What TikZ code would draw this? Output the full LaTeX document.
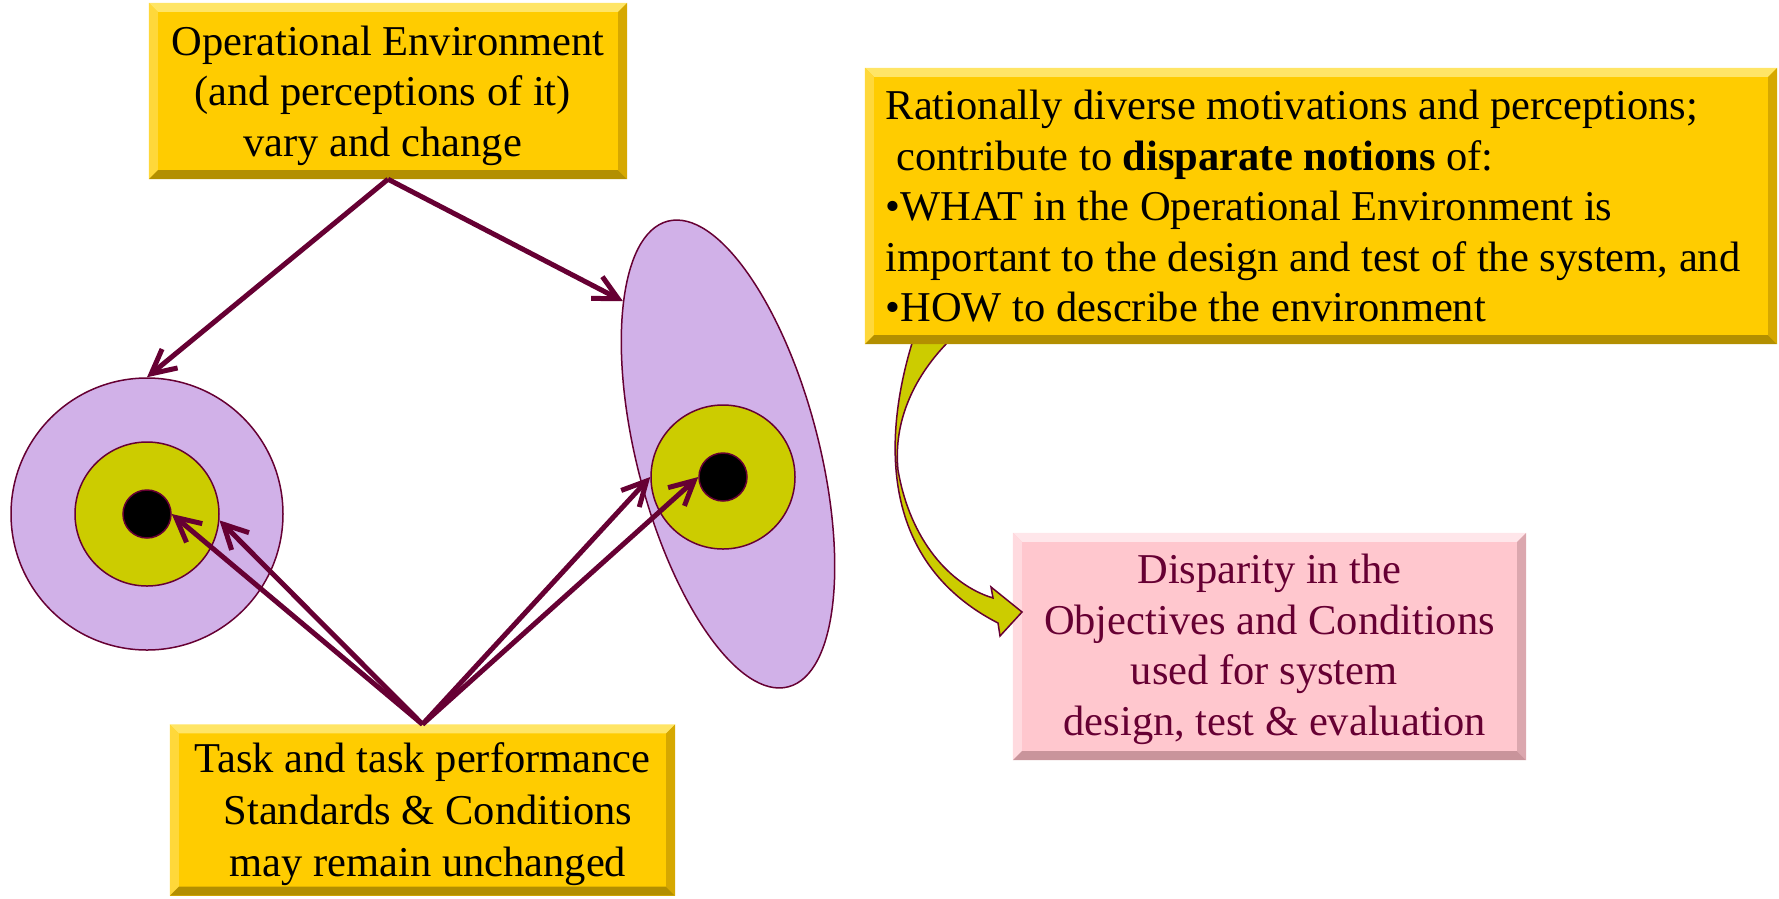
\documentclass[tikz,border=0pt]{standalone}
\usepackage{fontspec}
\setmainfont{Liberation Serif}
\usetikzlibrary{arrows.meta,calc,shapes.geometric}

\definecolor{maroon}{HTML}{660033}
\definecolor{gold}{HTML}{FFCC00}
\definecolor{goldtop}{HTML}{FFE566}
\definecolor{goldleft}{HTML}{FFD83A}
\definecolor{goldbottom}{HTML}{B38F00}
\definecolor{goldright}{HTML}{D6A800}
\definecolor{rose}{HTML}{FFC7CE}
\definecolor{rosetop}{HTML}{FFE6EA}
\definecolor{roseleft}{HTML}{FFDADF}
\definecolor{rosebottom}{HTML}{C9949B}
\definecolor{roseright}{HTML}{DBA7AE}
\definecolor{lilac}{HTML}{D1B1E8}
\definecolor{olive}{HTML}{CCCC00}

% bevelled edges of a box node: node, top, left, bottom, right
\newcommand{\boxbevel}[5]{%
  \fill[#2] (#1.north west) -- (#1.north east) -- ($(#1.north east)+(-9,9)$) -- ($(#1.north west)+(9,9)$) -- cycle;
  \fill[#3] (#1.north west) -- ($(#1.north west)+(9,9)$) -- ($(#1.south west)+(9,-9)$) -- (#1.south west) -- cycle;
  \fill[#4] (#1.south west) -- ($(#1.south west)+(9,-9)$) -- ($(#1.south east)+(-9,-9)$) -- (#1.south east) -- cycle;
  \fill[#5] (#1.north east) -- ($(#1.north east)+(-9,9)$) -- ($(#1.south east)+(-9,-9)$) -- (#1.south east) -- cycle;
}

\begin{document}
\begin{tikzpicture}[
		x=1pt, y=-1pt,
		every node/.style={font=\fontsize{42.5}{50.5}\selectfont},
		goldbox/.style={rectangle, fill=gold, inner sep=0pt, align=center},
		rosebox/.style={rectangle, fill=rose, text=maroon, inner sep=0pt, align=center},
		ring/.style={circle, draw=maroon, line width=1.5pt, inner sep=0pt},
		link/.style={draw=maroon, line width=5pt, -{Straight Barb[angle=54:27pt]}}
	]
  \useasboundingbox (0,0) rectangle (1779,898);
  % targets
  \node (lout) [ring, fill=lilac, minimum size=272pt] at (147,514) {};
  \node (lmid) [ring, fill=olive, minimum size=144pt] at (147,514) {};
  \node (lcore) [ring, fill=black, minimum size=48pt] at (147,514) {};
  \node (rout) [ellipse, draw=maroon, line width=1.5pt, fill=lilac, inner sep=0pt,
    minimum width=182pt, minimum height=481pt, rotate=14.5] at (728,454) {};
  \node (rmid) [ring, fill=olive, minimum size=144pt] at (723,477) {};
  \node (rcore) [ring, fill=black, minimum size=48pt] at (723,477) {};
  % result box
  \node (disp) [rosebox, text depth=3.6pt, minimum width=513pt, minimum height=227pt] at (1269.5,646.5)
    {Disparity in the\\Objectives and Conditions\\used for system~\mbox{}\\~design, test \& evaluation};
  \boxbevel{disp}{rosetop}{roseleft}{rosebottom}{roseright}
  % curved block arrow
  \filldraw[fill=olive, draw=maroon, line width=1.5pt]
    (913,340) .. controls (885,430) and (875,560) .. (998,623)
    -- (1000,636) -- (1022,612) -- (991,587) -- (993,598)
    .. controls (950,585) and (910,540) .. (898,470)
    .. controls (893,420) and (915,375) .. (950,340) -- cycle;
  % gold boxes
  \node (env) [goldbox, text depth=-6.8pt, minimum width=478pt, minimum height=176pt] at (388,91)
    {Operational Environment\\(and perceptions of it)~\mbox{}\\vary and change~\mbox{}};
  \boxbevel{env}{goldtop}{goldleft}{goldbottom}{goldright}
  \node (task) [goldbox, text depth=-5pt, font=\fontsize{42.5}{52}\selectfont,
    minimum width=505pt, minimum height=171pt] at (422.5,810)
    {Task and task performance\\~Standards \& Conditions\\~may remain unchanged};
  \boxbevel{task}{goldtop}{goldleft}{goldbottom}{goldright}
  \node (notions) [goldbox, align=left, text depth=-11.4pt, minimum width=912pt, minimum height=276pt] at (1321,206)
    {Rationally diverse motivations and perceptions;\\
     ~contribute to \textbf{disparate notions} of:\\
     •WHAT in the Operational Environment is\\
     important to the design and test of the system, and\kern16pt\\
     •HOW to describe the environment};
  \boxbevel{notions}{goldtop}{goldleft}{goldbottom}{goldright}
  % connectors
  \draw [link] (env.south) -- (lout.north);
  \draw [link] (env.south) -- (rout.110);
  \draw [link] (task.north) -- (lcore.east);
  \draw [link] (task.north) -- (lmid.-5);
  \draw [link] (task.north) -- (rmid.west);
  \draw [link] (task.north) -- (rcore.west);
\end{tikzpicture}
\end{document}
